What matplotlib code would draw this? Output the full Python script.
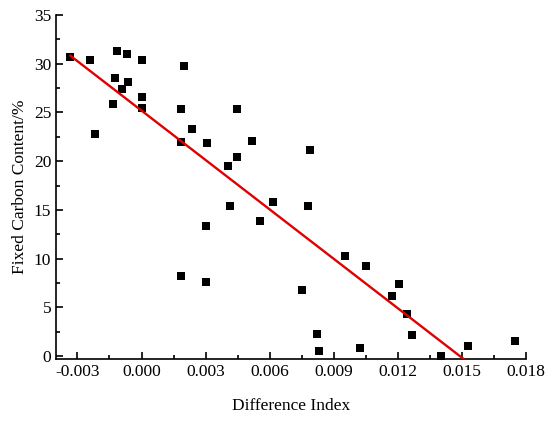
import numpy as np
import matplotlib
matplotlib.use("Agg")
import matplotlib.pyplot as plt
from matplotlib.ticker import MultipleLocator, FormatStrFormatter

difference_index = [-0.00333, -0.00242, -0.00113, -0.00068, 0.00001, 0.00198,
                    -0.00124, -0.00061, -0.00089, 0.00003, -0.00133, 0.00000,
                    0.00186, 0.00445, -0.00219, 0.00237, 0.00183, 0.00308,
                    0.00518, 0.00448, 0.00405, 0.00617, 0.00415, 0.00556,
                    0.00303, 0.00184, 0.00303, 0.00789, 0.00780, 0.00952,
                    0.01053, 0.00751, 0.01206, 0.01175, 0.01245, 0.00822,
                    0.01266, 0.00830, 0.01023, 0.01403, 0.01531, 0.01751]
fixed_carbon = [30.7, 30.4, 31.3, 31.0, 30.4, 29.7,
                28.5, 28.1, 27.4, 26.6, 25.9, 25.4,
                25.3, 25.3, 22.8, 23.3, 22.0, 21.9,
                22.1, 20.4, 19.5, 15.8, 15.4, 13.9,
                13.3, 8.2, 7.6, 21.1, 15.45, 10.3,
                9.3, 6.8, 7.45, 6.2, 4.3, 2.25,
                2.2, 0.5, 0.8, 0.0, 1.1, 1.6]

x = np.array(difference_index)
y = np.array(fixed_carbon)

plt.rcParams['font.family'] = ['Liberation Serif', 'DejaVu Serif']

fig = plt.figure(figsize=(5.5, 4.22), dpi=100)
ax = fig.add_axes([0.102, 0.150, 0.854, 0.815])

ax.scatter(x, y, marker='s', s=36, color='black', zorder=3, linewidths=0)

slope, intercept = np.polyfit(x, y, 1)
xf = np.array([x.min(), x.max()])
ax.plot(xf, slope * xf + intercept, color='#e00000', lw=1.7, zorder=4)

ax.set_xlim(-0.004, 0.018)
ax.set_ylim(-0.25, 35)

ax.xaxis.set_major_locator(MultipleLocator(0.003))
ax.xaxis.set_minor_locator(MultipleLocator(0.0015))
ax.xaxis.set_major_formatter(FormatStrFormatter('%.3f'))
ax.yaxis.set_major_locator(MultipleLocator(5))
ax.yaxis.set_minor_locator(MultipleLocator(2.5))

for s in ['top', 'right']:
    ax.spines[s].set_visible(False)
for s in ['left', 'bottom']:
    ax.spines[s].set_linewidth(1.2)

ax.tick_params(which='major', direction='in', length=5, width=1.2, labelsize=12.5)
ax.tick_params(which='minor', direction='in', length=3, width=1.2)

ax.set_xlabel('Difference Index', fontsize=12.5, labelpad=13)
ax.set_ylabel('Fixed Carbon Content/%', fontsize=12.5, labelpad=4)

fig.savefig('out.png', dpi=100)
